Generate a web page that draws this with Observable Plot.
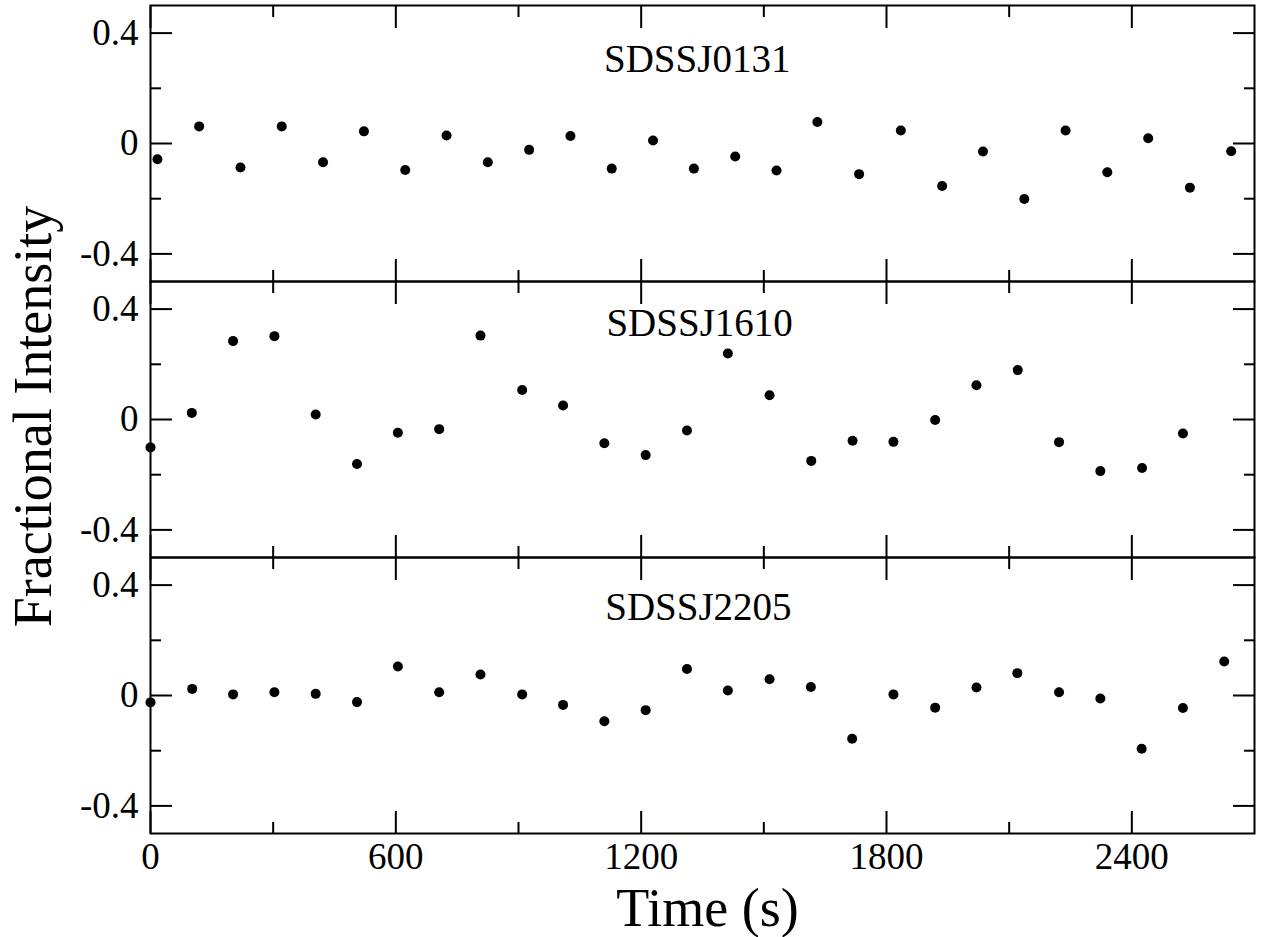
<!DOCTYPE html>
<html>
<head>
<meta charset="utf-8">
<script src="https://cdn.jsdelivr.net/npm/d3@7"></script>
<script src="https://cdn.jsdelivr.net/npm/@observablehq/plot@0.6"></script>
<style>
  html, body { margin: 0; padding: 0; background: #ffffff; }
  #chart { width: 1262px; height: 937px; }
</style>
</head>
<body>
<div id="chart"></div>
<script>
// ---- data ----
const stars = ["SDSSJ0131", "SDSSJ1610", "SDSSJ2205"];

const time0131 = [17, 119, 220, 321, 422, 522, 623, 724, 825, 926, 1027, 1128, 1229, 1329,
                  1430, 1531, 1631, 1733, 1835, 1936, 2036, 2137, 2238, 2340, 2440, 2542, 2643];
const flux0131 = [-0.057, 0.062, -0.087, 0.062, -0.068, 0.044, -0.096, 0.029, -0.068, -0.023, 0.027, -0.091, 0.011, -0.091,
                  -0.047, -0.098, 0.078, -0.111, 0.047, -0.154, -0.029, -0.201, 0.047, -0.104, 0.019, -0.160, -0.028];

const time1610 = [0, 101, 202, 303, 404, 505, 605, 706, 807, 909, 1009, 1110, 1211, 1312,
                  1412, 1514, 1616, 1717, 1817, 1919, 2020, 2121, 2222, 2323, 2425, 2525];
const flux1610 = [-0.101, 0.024, 0.284, 0.302, 0.018, -0.161, -0.048, -0.035, 0.304, 0.107, 0.051, -0.086, -0.129, -0.040,
                  0.239, 0.088, -0.150, -0.077, -0.081, -0.002, 0.124, 0.179, -0.082, -0.187, -0.176, -0.051];

const time2205 = [0, 102, 202, 303, 404, 505, 605, 706, 807, 909, 1009, 1110, 1211, 1312,
                  1412, 1514, 1615, 1716, 1817, 1919, 2020, 2120, 2222, 2323, 2424, 2525, 2626];
const flux2205 = [-0.025, 0.024, 0.004, 0.012, 0.006, -0.024, 0.105, 0.012, 0.076, 0.004, -0.034, -0.093, -0.053, 0.096,
                  0.018, 0.059, 0.031, -0.157, 0.004, -0.044, 0.029, 0.081, 0.012, -0.011, -0.193, -0.045, 0.123];

const xMajorTicks = [0, 600, 1200, 1800, 2400];
const xMinorTicks = [300, 900, 1500, 2100];
const yMajorTicks = [-0.4, 0, 0.4];
const yMinorTicks = [-0.2, 0.2];

// panel label anchors (data units) and titles
const labelTime = [1337, 1343, 1340];
const labelFlux = [0.259, 0.302, 0.273];
const xTitle = "Time (s)";
const yTitle = "Fractional Intensity";

// ---- build tables ----
const times = [time0131, time1610, time2205];
const fluxes = [flux0131, flux1610, flux2205];
const points = stars.flatMap((s, k) => times[k].map((t, i) => ({star: s, t, v: fluxes[k][i]})));
const labels = stars.map((s, k) => ({star: s, t: labelTime[k], v: labelFlux[k]}));

const fmtY = d => (d === 0 ? "0" : String(d));
const serif = "'Liberation Serif', 'Times New Roman', Times, serif";
const SW = 2;

const chart = Plot.plot({
  width: 1262,
  height: 937,
  marginLeft: 150,
  marginRight: 8,
  marginTop: 4,
  marginBottom: 104,
  style: {fontFamily: serif, fontSize: "37px", background: "#ffffff", color: "#000000"},
  x: {domain: [0, 2700]},
  y: {domain: [-0.5, 0.5]},
  fy: {domain: stars, padding: 0, axis: null},
  marks: [
    Plot.frame({stroke: "#000", strokeWidth: SW}),
    // left y axis
    Plot.axisY(yMajorTicks, {anchor: "left", tickSize: -22, tickPadding: 34, tickFormat: fmtY,
      fontSize: 37, strokeWidth: SW, label: null}),
    Plot.axisY(yMinorTicks, {anchor: "left", tickSize: -11, fill: "none", strokeWidth: SW, label: null}),
    // right y axis
    Plot.axisY(yMajorTicks, {anchor: "right", tickSize: -22, fill: "none", strokeWidth: SW, label: null}),
    Plot.axisY(yMinorTicks, {anchor: "right", tickSize: -11, fill: "none", strokeWidth: SW, label: null}),
    // top x ticks in every panel
    Plot.axisX(xMajorTicks, {anchor: "top", facetAnchor: null, tickSize: -22, fill: "none", strokeWidth: SW, label: null}),
    Plot.axisX(xMinorTicks, {anchor: "top", facetAnchor: null, tickSize: -11, fill: "none", strokeWidth: SW, label: null}),
    // bottom x ticks in every panel
    Plot.axisX(xMajorTicks, {anchor: "bottom", facetAnchor: null, tickSize: -22, fill: "none", strokeWidth: SW, label: null}),
    Plot.axisX(xMinorTicks, {anchor: "bottom", facetAnchor: null, tickSize: -11, fill: "none", strokeWidth: SW, label: null}),
    // bottom tick labels
    Plot.axisX(xMajorTicks, {anchor: "bottom", tickSize: 0, tickPadding: 9, tickFormat: d => String(d),
      fontSize: 37, label: null}),
    // data
    Plot.dot(points, {x: "t", y: "v", fy: "star", r: 5, fill: "#000", stroke: "none"}),
    // panel labels
    Plot.text(labels, {x: "t", y: "v", fy: "star", text: "star", fontSize: 39, lineAnchor: "bottom",
      textAnchor: "middle", fill: "#000"}),
    // axis titles
    Plot.text([yTitle], {fy: [stars[1]], text: d => d, frameAnchor: "left", rotate: -90, dx: -100, dy: -3,
      lineAnchor: "bottom", textAnchor: "middle", fontSize: 54, fill: "#000"}),
    Plot.text([xTitle], {fy: [stars[2]], text: d => d, frameAnchor: "bottom", dx: 5, dy: 92,
      lineAnchor: "bottom", textAnchor: "middle", fontSize: 54, fill: "#000"})
  ]
});

document.getElementById("chart").append(chart);
</script>
</body>
</html>
